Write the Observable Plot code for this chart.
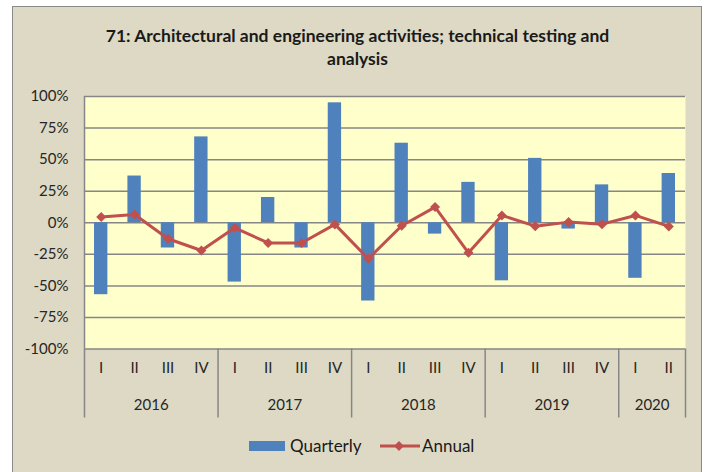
<!DOCTYPE html>
<html>
<head>
<meta charset="utf-8">
<script src="https://cdn.jsdelivr.net/npm/d3@7"></script>
<script src="https://cdn.jsdelivr.net/npm/@observablehq/plot@0.6"></script>
<style>
  html, body { margin: 0; padding: 0; background: #ffffff; }
  #page { position: relative; width: 711px; height: 472px; overflow: hidden; background: #ffffff; font-family: Lato, "Open Sans", sans-serif; }
  #box { position: absolute; left: 12px; top: 6px; width: 688px; height: 480px; background: #DDD9C4; border: 1.5px solid #8a8a8a; }
  #title { position: absolute; left: 0; width: 715px; top: 24px; text-align: center; font-weight: bold; font-size: 17.5px; line-height: 23px; color: #1a1a1a; }
  #chart { position: absolute; left: 0; top: 80px; }
  #legend { position: absolute; top: 435px; left: 0; width: 711px; height: 22px; font-size: 17px; color: #1a1a1a; }
  .sw { position: absolute; }
  .lt { position: absolute; top: 0; line-height: 22px; }
</style>
</head>
<body>
<div id="page">
  <div id="box"></div>
  <div id="title">71: Architectural and engineering activities; technical testing and<br>analysis</div>
  <div id="chart"></div>
  <div id="legend">
    <div class="sw" style="left:249px; top:6px; width:36px; height:10px; background:#4F81BD;"></div>
    <div class="lt" style="left:290px;">Quarterly</div>
    <svg class="sw" style="left:379px; top:2px;" width="42" height="18">
      <line x1="1" y1="9" x2="41" y2="9" stroke="#C0504D" stroke-width="3"></line>
      <rect x="16.5" y="5.5" width="7" height="7" fill="#C0504D" transform="rotate(45 20 9)"></rect>
    </svg>
    <div class="lt" style="left:422px;">Annual</div>
  </div>
</div>
<script>
const years = ["2016", "2017", "2018", "2019", "2020"];
const yearQuarterCounts = [4, 4, 4, 4, 2];
const quarterLabels = ["I","II","III","IV","I","II","III","IV","I","II","III","IV","I","II","III","IV","I","II"];
const quarterly = [-57, 37, -20, 68, -47, 20, -20, 95, -62, 63, -9, 32, -46, 51, -5, 30, -44, 39];
const annual = [4.5, 6.6, -12.7, -22, -4, -16, -16, -1.3, -28.5, -2.4, 12.4, -23.8, 5.8, -2.7, 0.5, -1.1, 5.8, -2.9];
const yTicks = [-100, -75, -50, -25, 0, 25, 50, 75, 100];

const data = quarterLabels.map((q, i) => ({i, q, quarterly: quarterly[i], annual: annual[i]}));
const n = quarterLabels.length;

// year boundaries and centers (in category index units)
const yearStarts = [];
let acc = 0;
yearQuarterCounts.forEach(c => { yearStarts.push(acc); acc += c; });
const separators = [...yearStarts, acc];
const yearCenters = yearStarts.map((s, k) => s + yearQuarterCounts[k] / 2);

const grid = "#868686";
const chart = Plot.plot({
  width: 711,
  height: 345,
  marginLeft: 84,
  marginRight: 26,
  marginTop: 16,
  marginBottom: 76.5,
  style: {fontFamily: "Lato, 'Open Sans', sans-serif", fontSize: "15px", color: "#262626", background: "transparent", overflow: "visible"},
  x: {domain: [0, n]},
  y: {domain: [-100, 100]},
  marks: [
    Plot.frame({fill: "#FFFFCC", stroke: null}),
    Plot.gridY(yTicks, {stroke: grid, strokeOpacity: 1, strokeWidth: 1.5}),
    Plot.rectY(data, {x1: d => d.i + 0.3, x2: d => d.i + 0.7, y1: 0, y2: "quarterly", fill: "#4F81BD"}),
    Plot.ruleX([0], {stroke: grid, strokeWidth: 1.5}),
    Plot.axisX({ticks: separators, tickSize: 69, tickFormat: () => "", stroke: grid, strokeWidth: 1.5, label: null}),
    Plot.axisX({ticks: data.map(d => d.i + 0.5), tickSize: 0, tickPadding: 13, tickFormat: d => quarterLabels[Math.floor(d)], label: null}),
    Plot.axisX({ticks: yearCenters, tickSize: 0, tickPadding: 50, tickFormat: d => years[yearCenters.indexOf(d)], label: null}),
    Plot.axisY({ticks: yTicks, tickSize: 0, tickPadding: 16, tickFormat: d => d + "%", label: null}),
    Plot.line(data, {x: d => d.i + 0.5, y: "annual", stroke: "#C0504D", strokeWidth: 3}),
    Plot.dot(data, {x: d => d.i + 0.5, y: "annual", symbol: "square", rotate: 45, r: 4, fill: "#C0504D"})
  ]
});
document.getElementById("chart").appendChild(chart);
</script>
</body>
</html>
